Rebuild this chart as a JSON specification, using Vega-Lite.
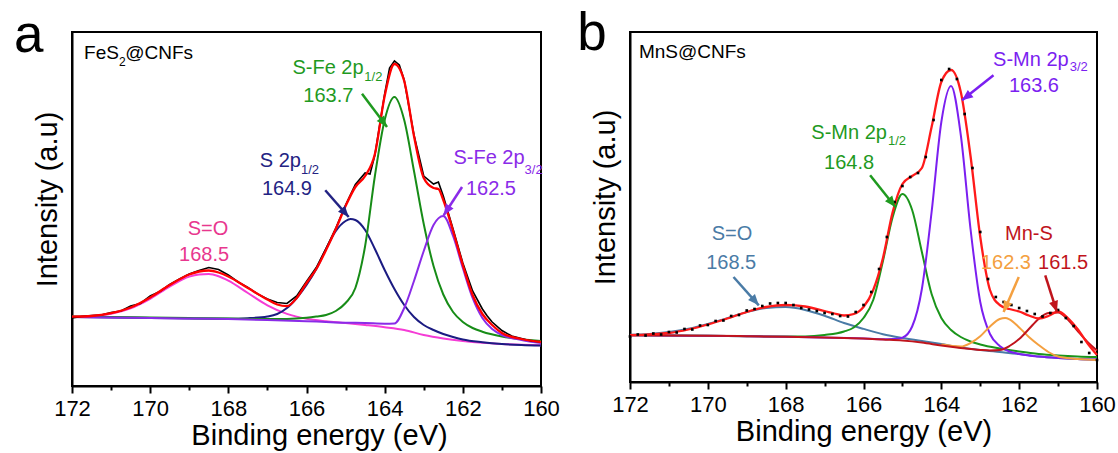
{
 "$schema": "https://vega.github.io/schema/vega-lite/v6.json",
 "padding": {"left": 12, "top": 6, "right": 5, "bottom": 4},
 "spacing": 89,
 "bounds": "flush",
 "resolve": {"scale": {"color": "independent"}},
 "config": {
  "view": {"stroke": "#000", "strokeWidth": 2},
  "font": "Liberation Sans",
  "axis": {"labelFont": "Liberation Sans", "titleFont": "Liberation Sans", "grid": false, "domainColor": "#000", "domainWidth": 2, "tickColor": "#000", "tickWidth": 2, "labelColor": "#000", "titleColor": "#000", "titleFontWeight": "normal"},
  "text": {"font": "Liberation Sans", "baseline": "alphabetic"}
 },
 "datasets": {
  "curvesA": [
   {"s":"SO","E":172,"v":69.3},{"s":"SO","E":171.5,"v":69.9},{"s":"SO","E":171,"v":72.2},{"s":"SO","E":170.5,"v":77.7},{"s":"SO","E":170,"v":87.2},{"s":"SO","E":169.5,"v":99.4},{"s":"SO","E":169,"v":109.4},{"s":"SO","E":168.75,"v":111.6},{"s":"SO","E":168.5,"v":112},{"s":"SO","E":168.25,"v":109.8},{"s":"SO","E":168,"v":105.4},{"s":"SO","E":167.5,"v":93},{"s":"SO","E":167,"v":80.7},{"s":"SO","E":166.5,"v":72.1},{"s":"SO","E":166,"v":67.2},{"s":"SO","E":165.5,"v":64.7},{"s":"SO","E":165,"v":63},{"s":"SO","E":164.5,"v":61},{"s":"SO","E":164,"v":58.8},{"s":"SO","E":163.5,"v":56},{"s":"SO","E":163,"v":51},{"s":"SO","E":162.5,"v":47.5},{"s":"SO","E":162,"v":45},{"s":"SO","E":161.5,"v":43.2},{"s":"SO","E":161,"v":42},{"s":"SO","E":160.5,"v":41.2},{"s":"SO","E":160,"v":40.7},
   {"s":"S2p","E":172,"v":69},{"s":"S2p","E":171,"v":68.6},{"s":"S2p","E":170,"v":68.1},{"s":"S2p","E":169,"v":67.6},{"s":"S2p","E":168,"v":67.3},{"s":"S2p","E":167.5,"v":67.8},{"s":"S2p","E":167,"v":69.5},{"s":"S2p","E":166.75,"v":72},{"s":"S2p","E":166.5,"v":78},{"s":"S2p","E":166.25,"v":88},{"s":"S2p","E":166,"v":101},{"s":"S2p","E":165.75,"v":117},{"s":"S2p","E":165.5,"v":137},{"s":"S2p","E":165.25,"v":155},{"s":"S2p","E":165,"v":165},{"s":"S2p","E":164.875,"v":167},{"s":"S2p","E":164.75,"v":166},{"s":"S2p","E":164.5,"v":156},{"s":"S2p","E":164.25,"v":137},{"s":"S2p","E":164,"v":116},{"s":"S2p","E":163.75,"v":97},{"s":"S2p","E":163.5,"v":81},{"s":"S2p","E":163.25,"v":69},{"s":"S2p","E":163,"v":61},{"s":"S2p","E":162.75,"v":56},{"s":"S2p","E":162.5,"v":52},{"s":"S2p","E":162.25,"v":49},{"s":"S2p","E":162,"v":46.5},{"s":"S2p","E":161.5,"v":43.8},{"s":"S2p","E":161,"v":42},{"s":"S2p","E":160.5,"v":41},{"s":"S2p","E":160,"v":40.5},
   {"s":"Fe12","E":172,"v":69.4},{"s":"Fe12","E":171,"v":68.9},{"s":"Fe12","E":170,"v":68.4},{"s":"Fe12","E":169,"v":67.9},{"s":"Fe12","E":168,"v":67.4},{"s":"Fe12","E":167,"v":67},{"s":"Fe12","E":166.5,"v":67.1},{"s":"Fe12","E":166,"v":68.3},{"s":"Fe12","E":165.75,"v":69.5},{"s":"Fe12","E":165.5,"v":71},{"s":"Fe12","E":165.25,"v":75},{"s":"Fe12","E":165,"v":83},{"s":"Fe12","E":164.75,"v":98},{"s":"Fe12","E":164.5,"v":140},{"s":"Fe12","E":164.25,"v":210},{"s":"Fe12","E":164,"v":266},{"s":"Fe12","E":163.75,"v":289},{"s":"Fe12","E":163.5,"v":266},{"s":"Fe12","E":163.25,"v":215},{"s":"Fe12","E":163,"v":162},{"s":"Fe12","E":162.75,"v":120},{"s":"Fe12","E":162.5,"v":91.5},{"s":"Fe12","E":162.25,"v":74},{"s":"Fe12","E":162,"v":64},{"s":"Fe12","E":161.75,"v":58},{"s":"Fe12","E":161.5,"v":54.3},{"s":"Fe12","E":161,"v":49.6},{"s":"Fe12","E":160.5,"v":46.8},{"s":"Fe12","E":160,"v":44.9},
   {"s":"Fe32","E":172,"v":69},{"s":"Fe32","E":171,"v":68.6},{"s":"Fe32","E":170,"v":68.1},{"s":"Fe32","E":169,"v":67.5},{"s":"Fe32","E":168,"v":66.9},{"s":"Fe32","E":167,"v":66},{"s":"Fe32","E":166,"v":64.8},{"s":"Fe32","E":165.5,"v":64},{"s":"Fe32","E":165,"v":63.3},{"s":"Fe32","E":164.5,"v":63},{"s":"Fe32","E":164,"v":62.3},{"s":"Fe32","E":163.75,"v":62.5},{"s":"Fe32","E":163.5,"v":78},{"s":"Fe32","E":163.25,"v":105},{"s":"Fe32","E":163,"v":135},{"s":"Fe32","E":162.75,"v":161},{"s":"Fe32","E":162.5,"v":170},{"s":"Fe32","E":162.25,"v":150},{"s":"Fe32","E":162,"v":118},{"s":"Fe32","E":161.75,"v":88},{"s":"Fe32","E":161.5,"v":68},{"s":"Fe32","E":161.25,"v":57},{"s":"Fe32","E":161,"v":51},{"s":"Fe32","E":160.5,"v":46},{"s":"Fe32","E":160,"v":43},
   {"s":"data","E":172,"v":68},{"s":"data","E":171.75,"v":69.5},{"s":"data","E":171.5,"v":70.5},{"s":"data","E":171.25,"v":71},{"s":"data","E":171,"v":73.5},{"s":"data","E":170.75,"v":75},{"s":"data","E":170.5,"v":80},{"s":"data","E":170.25,"v":82.5},{"s":"data","E":170,"v":90},{"s":"data","E":169.75,"v":94.5},{"s":"data","E":169.5,"v":101.5},{"s":"data","E":169.25,"v":107},{"s":"data","E":169,"v":112},{"s":"data","E":168.75,"v":115.5},{"s":"data","E":168.5,"v":118.5},{"s":"data","E":168.25,"v":116.5},{"s":"data","E":168,"v":111},{"s":"data","E":167.75,"v":104},{"s":"data","E":167.5,"v":98.5},{"s":"data","E":167.25,"v":92},{"s":"data","E":167,"v":87},{"s":"data","E":166.75,"v":83.5},{"s":"data","E":166.5,"v":82.5},{"s":"data","E":166.25,"v":90},{"s":"data","E":166,"v":104.5},{"s":"data","E":165.75,"v":118.5},{"s":"data","E":165.5,"v":137.5},{"s":"data","E":165.25,"v":158},{"s":"data","E":165,"v":181},{"s":"data","E":164.75,"v":201.5},{"s":"data","E":164.5,"v":213},{"s":"data","E":164.375,"v":212},{"s":"data","E":164.25,"v":231},{"s":"data","E":164,"v":292},{"s":"data","E":163.875,"v":318},{"s":"data","E":163.75,"v":325},{"s":"data","E":163.625,"v":321},{"s":"data","E":163.5,"v":306},{"s":"data","E":163.25,"v":251},{"s":"data","E":163,"v":210},{"s":"data","E":162.75,"v":202},{"s":"data","E":162.625,"v":204},{"s":"data","E":162.5,"v":190},{"s":"data","E":162.25,"v":157},{"s":"data","E":162,"v":123},{"s":"data","E":161.75,"v":95},{"s":"data","E":161.5,"v":77},{"s":"data","E":161.375,"v":70},{"s":"data","E":161.25,"v":64},{"s":"data","E":161,"v":55.5},{"s":"data","E":160.75,"v":50},{"s":"data","E":160.5,"v":47.5},{"s":"data","E":160.25,"v":45},{"s":"data","E":160,"v":44},
   {"s":"fit","E":172,"v":69.3},{"s":"fit","E":171.5,"v":70},{"s":"fit","E":171,"v":72.8},{"s":"fit","E":170.5,"v":78.5},{"s":"fit","E":170,"v":88.5},{"s":"fit","E":169.5,"v":101},{"s":"fit","E":169,"v":111.5},{"s":"fit","E":168.75,"v":114.5},{"s":"fit","E":168.5,"v":115.5},{"s":"fit","E":168.25,"v":113.5},{"s":"fit","E":168,"v":109.5},{"s":"fit","E":167.5,"v":98},{"s":"fit","E":167,"v":86.5},{"s":"fit","E":166.75,"v":81.5},{"s":"fit","E":166.5,"v":79.8},{"s":"fit","E":166.25,"v":88},{"s":"fit","E":166,"v":103},{"s":"fit","E":165.75,"v":117},{"s":"fit","E":165.5,"v":136},{"s":"fit","E":165.25,"v":157},{"s":"fit","E":165,"v":180},{"s":"fit","E":164.75,"v":199},{"s":"fit","E":164.5,"v":210},{"s":"fit","E":164.25,"v":232},{"s":"fit","E":164,"v":290},{"s":"fit","E":163.75,"v":322},{"s":"fit","E":163.5,"v":305},{"s":"fit","E":163.25,"v":250},{"s":"fit","E":163,"v":208},{"s":"fit","E":162.75,"v":198},{"s":"fit","E":162.625,"v":197},{"s":"fit","E":162.5,"v":186},{"s":"fit","E":162.25,"v":155},{"s":"fit","E":162,"v":121},{"s":"fit","E":161.75,"v":91},{"s":"fit","E":161.5,"v":72},{"s":"fit","E":161.25,"v":61},{"s":"fit","E":161,"v":53},{"s":"fit","E":160.5,"v":47},{"s":"fit","E":160,"v":44}
  ],
  "labelsA": [
   {"k":"m","t":"S-Fe 2p","E":165.45,"v":312,"s":"Fe12l"},
   {"k":"m","t":"163.7","E":165.44,"v":284,"s":"Fe12l"},
   {"k":"m","t":"S 2p","E":166.67,"v":219,"s":"S2pl"},
   {"k":"m","t":"164.9","E":166.5,"v":191,"s":"S2pl"},
   {"k":"m","t":"S-Fe 2p","E":161.33,"v":222,"s":"Fe32l"},
   {"k":"m","t":"162.5","E":161.28,"v":191,"s":"Fe32l"},
   {"k":"m","t":"S=O","E":168.52,"v":151,"s":"SOl"},
   {"k":"m","t":"168.5","E":168.62,"v":125,"s":"SOl"},
   {"k":"s","t":"1/2","E":164.29,"v":305,"s":"Fe12l"},
   {"k":"s","t":"1/2","E":165.91,"v":212,"s":"S2pl"},
   {"k":"s","t":"3/2","E":160.19,"v":212,"s":"Fe32l"},
   {"k":"n","t":"FeS","E":171.69,"v":327,"s":"k"},
   {"k":"ns","t":"2","E":170.8,"v":320,"s":"k"},
   {"k":"n","t":"@CNFs","E":170.64,"v":327,"s":"k"},
   {"k":"L","t":"a","E":173.11,"v":334,"s":"k"}
  ],
  "arrowsA": [
   {"s":"Fe12l","E":164.58,"v":292.3,"E2":163.94,"v2":259},
   {"s":"S2pl","E":165.52,"v":195.7,"E2":164.92,"v2":169},
   {"s":"Fe32l","E":162.02,"v":199,"E2":162.49,"v2":170.7}
  ],
  "headsA": [
   {"s":"Fe12l","E":163.94,"v":259},
   {"s":"S2pl","E":164.92,"v":169},
   {"s":"Fe32l","E":162.49,"v":170.7}
  ],
  "curvesB": [
   {"s":"SO","E":172,"v":47.3},{"s":"SO","E":171.5,"v":48.1},{"s":"SO","E":171,"v":50},{"s":"SO","E":170.5,"v":53.2},{"s":"SO","E":170,"v":58},{"s":"SO","E":169.5,"v":63.9},{"s":"SO","E":169,"v":69.9},{"s":"SO","E":168.5,"v":74},{"s":"SO","E":168,"v":74.9},{"s":"SO","E":167.5,"v":72.1},{"s":"SO","E":167,"v":66.3},{"s":"SO","E":166.5,"v":59},{"s":"SO","E":166,"v":53.1},{"s":"SO","E":165.5,"v":47.8},{"s":"SO","E":165,"v":44.1},{"s":"SO","E":164.5,"v":41.1},{"s":"SO","E":164,"v":37.9},{"s":"SO","E":163.5,"v":34.5},{"s":"SO","E":163,"v":32},{"s":"SO","E":162.5,"v":30},{"s":"SO","E":162,"v":28},{"s":"SO","E":161.5,"v":25.5},{"s":"SO","E":161,"v":24},{"s":"SO","E":160.5,"v":23},{"s":"SO","E":160,"v":22.5},
   {"s":"Mn12","E":172,"v":46.7},{"s":"Mn12","E":171,"v":46.5},{"s":"Mn12","E":170,"v":46.2},{"s":"Mn12","E":169,"v":45.8},{"s":"Mn12","E":168,"v":45.4},{"s":"Mn12","E":167.5,"v":45.5},{"s":"Mn12","E":167,"v":47},{"s":"Mn12","E":166.5,"v":50.5},{"s":"Mn12","E":166.25,"v":54.5},{"s":"Mn12","E":166,"v":64},{"s":"Mn12","E":165.75,"v":82},{"s":"Mn12","E":165.5,"v":121},{"s":"Mn12","E":165.25,"v":165},{"s":"Mn12","E":165,"v":188},{"s":"Mn12","E":164.75,"v":172},{"s":"Mn12","E":164.5,"v":130},{"s":"Mn12","E":164.25,"v":88},{"s":"Mn12","E":164,"v":64},{"s":"Mn12","E":163.75,"v":52},{"s":"Mn12","E":163.5,"v":45},{"s":"Mn12","E":163.25,"v":40.5},{"s":"Mn12","E":163,"v":37.5},{"s":"Mn12","E":162.5,"v":33.5},{"s":"Mn12","E":162,"v":30.5},{"s":"Mn12","E":161.5,"v":28},{"s":"Mn12","E":161,"v":26.5},{"s":"Mn12","E":160.5,"v":25.5},{"s":"Mn12","E":160,"v":25},
   {"s":"Mn32","E":172,"v":46.7},{"s":"Mn32","E":170,"v":46.2},{"s":"Mn32","E":168,"v":45.3},{"s":"Mn32","E":166,"v":43.5},{"s":"Mn32","E":165.5,"v":42.8},{"s":"Mn32","E":165.25,"v":43},{"s":"Mn32","E":165,"v":44.4},{"s":"Mn32","E":164.75,"v":55.5},{"s":"Mn32","E":164.5,"v":93},{"s":"Mn32","E":164.25,"v":170},{"s":"Mn32","E":164,"v":260},{"s":"Mn32","E":163.75,"v":296},{"s":"Mn32","E":163.5,"v":247},{"s":"Mn32","E":163.25,"v":153},{"s":"Mn32","E":163,"v":80},{"s":"Mn32","E":162.75,"v":48},{"s":"Mn32","E":162.5,"v":36},{"s":"Mn32","E":162.25,"v":30.5},{"s":"Mn32","E":162,"v":28},{"s":"Mn32","E":161.5,"v":25.5},{"s":"Mn32","E":161,"v":24},{"s":"Mn32","E":160.5,"v":23},{"s":"Mn32","E":160,"v":22.5},
   {"s":"o","E":164,"v":37.5},{"s":"o","E":163.5,"v":35.5},{"s":"o","E":163.25,"v":39},{"s":"o","E":163,"v":45.7},{"s":"o","E":162.75,"v":55.5},{"s":"o","E":162.5,"v":63},{"s":"o","E":162.36,"v":64},{"s":"o","E":162.25,"v":62.7},{"s":"o","E":162,"v":54.5},{"s":"o","E":161.75,"v":45},{"s":"o","E":161.5,"v":37},{"s":"o","E":161.25,"v":30},{"s":"o","E":161,"v":25.5},{"s":"o","E":160.5,"v":23},{"s":"o","E":160,"v":22},
   {"s":"MnS","E":172,"v":46.7},{"s":"MnS","E":171,"v":46.5},{"s":"MnS","E":170,"v":46.2},{"s":"MnS","E":169,"v":45.8},{"s":"MnS","E":168,"v":45.3},{"s":"MnS","E":167,"v":44.5},{"s":"MnS","E":166,"v":43.5},{"s":"MnS","E":165.5,"v":42.5},{"s":"MnS","E":165,"v":41.5},{"s":"MnS","E":164.5,"v":39.5},{"s":"MnS","E":164,"v":36.5},{"s":"MnS","E":163.5,"v":34},{"s":"MnS","E":163,"v":32},{"s":"MnS","E":162.75,"v":31.5},{"s":"MnS","E":162.5,"v":32},{"s":"MnS","E":162.25,"v":36},{"s":"MnS","E":162,"v":43},{"s":"MnS","E":161.75,"v":53},{"s":"MnS","E":161.5,"v":63},{"s":"MnS","E":161.25,"v":69},{"s":"MnS","E":161,"v":69.5},{"s":"MnS","E":160.75,"v":62.5},{"s":"MnS","E":160.5,"v":51.2},{"s":"MnS","E":160.25,"v":40.3},{"s":"MnS","E":160,"v":31.5},
   {"s":"fit","E":172,"v":46.8},{"s":"fit","E":171.5,"v":47.6},{"s":"fit","E":171,"v":49},{"s":"fit","E":170.5,"v":52.5},{"s":"fit","E":170,"v":57.5},{"s":"fit","E":169.5,"v":63.5},{"s":"fit","E":169,"v":70},{"s":"fit","E":168.5,"v":75},{"s":"fit","E":168,"v":77},{"s":"fit","E":167.5,"v":75.5},{"s":"fit","E":167,"v":71},{"s":"fit","E":166.75,"v":68.5},{"s":"fit","E":166.5,"v":66.5},{"s":"fit","E":166.25,"v":68},{"s":"fit","E":166,"v":75},{"s":"fit","E":165.75,"v":92},{"s":"fit","E":165.5,"v":124},{"s":"fit","E":165.25,"v":170},{"s":"fit","E":165,"v":198},{"s":"fit","E":164.75,"v":206},{"s":"fit","E":164.5,"v":214},{"s":"fit","E":164.25,"v":255},{"s":"fit","E":164,"v":300},{"s":"fit","E":163.75,"v":312},{"s":"fit","E":163.5,"v":290},{"s":"fit","E":163.25,"v":226},{"s":"fit","E":163,"v":145},{"s":"fit","E":162.75,"v":92},{"s":"fit","E":162.5,"v":77},{"s":"fit","E":162.25,"v":73},{"s":"fit","E":162,"v":70.5},{"s":"fit","E":161.75,"v":66.5},{"s":"fit","E":161.5,"v":63.5},{"s":"fit","E":161.25,"v":66},{"s":"fit","E":161,"v":70.5},{"s":"fit","E":160.75,"v":64},{"s":"fit","E":160.5,"v":53},{"s":"fit","E":160.25,"v":39},{"s":"fit","E":160,"v":27}
  ],
  "dotsB": [
   {"s":"data","E":172,"v":45.5},{"s":"data","E":171.8,"v":47.5},{"s":"data","E":171.6,"v":46.5},{"s":"data","E":171.4,"v":48.5},{"s":"data","E":171.2,"v":47.5},{"s":"data","E":171,"v":50},{"s":"data","E":170.8,"v":49.5},{"s":"data","E":170.6,"v":53},{"s":"data","E":170.4,"v":52.5},{"s":"data","E":170.2,"v":56.5},{"s":"data","E":170,"v":57},{"s":"data","E":169.8,"v":61},{"s":"data","E":169.6,"v":61.5},{"s":"data","E":169.4,"v":66},{"s":"data","E":169.2,"v":67},{"s":"data","E":169,"v":71.5},{"s":"data","E":168.8,"v":73},{"s":"data","E":168.6,"v":76},{"s":"data","E":168.4,"v":78.5},{"s":"data","E":168.2,"v":79},{"s":"data","E":168,"v":79},{"s":"data","E":167.8,"v":77},{"s":"data","E":167.6,"v":74},{"s":"data","E":167.4,"v":72.5},{"s":"data","E":167.2,"v":71},{"s":"data","E":167,"v":69},{"s":"data","E":166.8,"v":68},{"s":"data","E":166.6,"v":66},{"s":"data","E":166.4,"v":65.5},{"s":"data","E":166.2,"v":70},{"s":"data","E":166,"v":77},{"s":"data","E":165.8,"v":90},{"s":"data","E":165.6,"v":113},{"s":"data","E":165.4,"v":145},{"s":"data","E":165.2,"v":180},{"s":"data","E":165,"v":196},{"s":"data","E":164.8,"v":205},{"s":"data","E":164.6,"v":209},{"s":"data","E":164.4,"v":225},{"s":"data","E":164.2,"v":262},{"s":"data","E":164,"v":302},{"s":"data","E":163.8,"v":313},{"s":"data","E":163.6,"v":303},{"s":"data","E":163.4,"v":268},{"s":"data","E":163.2,"v":214},{"s":"data","E":163,"v":150},{"s":"data","E":162.8,"v":103},{"s":"data","E":162.6,"v":85},{"s":"data","E":162.4,"v":80},{"s":"data","E":162.2,"v":77},{"s":"data","E":162,"v":74},{"s":"data","E":161.8,"v":71},{"s":"data","E":161.6,"v":68},{"s":"data","E":161.4,"v":65.5},{"s":"data","E":161.2,"v":69},{"s":"data","E":161,"v":72},{"s":"data","E":160.8,"v":64},{"s":"data","E":160.6,"v":56},{"s":"data","E":160.4,"v":40},{"s":"data","E":160.2,"v":29},{"s":"data","E":160,"v":22}
  ],
  "labelsB": [
   {"k":"m","t":"S-Mn 2p","E":161.7,"v":316.5,"s":"Mn32l"},
   {"k":"s","t":"3/2","E":160.47,"v":311.5,"s":"Mn32l"},
   {"k":"m","t":"163.6","E":161.62,"v":290,"s":"Mn32l"},
   {"k":"m","t":"S-Mn 2p","E":166.37,"v":243.5,"s":"Mn12l"},
   {"k":"s","t":"1/2","E":165.14,"v":237,"s":"Mn12l"},
   {"k":"m","t":"164.8","E":166.37,"v":213.3,"s":"Mn12l"},
   {"k":"m","t":"S=O","E":169.38,"v":141.7,"s":"SOl"},
   {"k":"m","t":"168.5","E":169.4,"v":113,"s":"SOl"},
   {"k":"m","t":"Mn-S","E":161.75,"v":141.7,"s":"MnSl"},
   {"k":"m","t":"162.3","E":162.34,"v":113,"s":"ol"},
   {"k":"m","t":"161.5","E":160.87,"v":113,"s":"MnSl"},
   {"k":"n","t":"MnS@CNFs","E":171.77,"v":324,"s":"k"},
   {"k":"L","t":"b","E":172.98,"v":332,"s":"k"}
  ],
  "arrowsB": [
   {"s":"Mn32l","E":162.66,"v":306.7,"E2":163.47,"v2":281.7},
   {"s":"Mn12l","E":165.83,"v":206.7,"E2":165.18,"v2":175},
   {"s":"SOl","E":169.34,"v":105,"E2":168.69,"v2":76.7},
   {"s":"ol","E":162.01,"v":105,"E2":162.4,"v2":70},
   {"s":"MnSl","E":161.33,"v":106.7,"E2":161.03,"v2":70}
  ],
  "headsB": [
   {"s":"Mn32l","E":163.47,"v":281.7},
   {"s":"Mn12l","E":165.18,"v":175},
   {"s":"SOl","E":168.69,"v":76.7},
   {"s":"ol","E":162.4,"v":70},
   {"s":"MnSl","E":161.03,"v":70}
  ]
 },
 "hconcat": [
  {
   "width": 469, "height": 354,
   "encoding": {
    "x": {"field": "E", "type": "quantitative", "scale": {"domain": [160, 172], "reverse": true, "nice": false, "zero": false},
     "axis": {"values": [172,171,170,169,168,167,166,165,164,163,162,161,160], "labelExpr": "datum.value % 2 === 0 ? datum.label : ''", "tickSize": {"condition": {"test": "datum.value % 2 === 0", "value": 7}, "value": 4}, "labelFontSize": 22, "labelPadding": 5, "labelOverlap": false, "labelFlush": false, "title": "Binding energy (eV)", "titleFontSize": 29, "titlePadding": 2, "titleX": 247}},
    "y": {"field": "v", "type": "quantitative", "scale": {"domain": [0, 354], "nice": false, "zero": false},
     "axis": {"ticks": false, "labels": false, "title": "Intensity (a.u)", "titleFontSize": 29, "titlePadding": 10, "titleY": 167}},
    "color": {"field": "s", "type": "nominal", "legend": null,
     "scale": {"domain": ["SO","S2p","Fe12","Fe32","data","fit","SOl","S2pl","Fe12l","Fe32l","k"],
               "range": ["#f53cd6","#1b1b82","#178c17","#8a2be8","#000000","#ff0000","#e8378e","#232383","#1f9a1f","#8a2be8","#000000"]}}
   },
   "layer": [
    {"data": {"name": "curvesA"}, "transform": [{"filter": "datum.s !== 'data' && datum.s !== 'fit'"}], "mark": {"type": "line", "interpolate": "monotone", "strokeWidth": 2}},
    {"data": {"name": "curvesA"}, "transform": [{"filter": "datum.s === 'data'"}], "mark": {"type": "line", "strokeWidth": 1.6}},
    {"data": {"name": "curvesA"}, "transform": [{"filter": "datum.s === 'fit'"}], "mark": {"type": "line", "interpolate": "monotone", "strokeWidth": 2.3}},
    {"data": {"name": "arrowsA"}, "mark": {"type": "rule", "strokeWidth": 2.5}, "encoding": {"x2": {"field": "E2"}, "y2": {"field": "v2"}}},
    {"data": {"name": "headsA"}, "transform": [{"filter": "datum.s === 'Fe12l'"}], "mark": {"type": "point", "shape": "M0,0L0.75,1.8L-0.75,1.8Z", "filled": true, "size": 150, "opacity": 1, "strokeWidth": 0, "angle": 143}},
    {"data": {"name": "headsA"}, "transform": [{"filter": "datum.s === 'S2pl'"}], "mark": {"type": "point", "shape": "M0,0L0.75,1.8L-0.75,1.8Z", "filled": true, "size": 150, "opacity": 1, "strokeWidth": 0, "angle": 139}},
    {"data": {"name": "headsA"}, "transform": [{"filter": "datum.s === 'Fe32l'"}], "mark": {"type": "point", "shape": "M0,0L0.75,1.8L-0.75,1.8Z", "filled": true, "size": 150, "opacity": 1, "strokeWidth": 0, "angle": 213}},
    {"data": {"name": "labelsA"}, "transform": [{"filter": "datum.k === 'm'"}], "mark": {"type": "text", "fontSize": 20, "align": "center", "baseline": "alphabetic"}, "encoding": {"text": {"field": "t"}}},
    {"data": {"name": "labelsA"}, "transform": [{"filter": "datum.k === 's'"}], "mark": {"type": "text", "fontSize": 13, "align": "center", "baseline": "alphabetic"}, "encoding": {"text": {"field": "t"}}},
    {"data": {"name": "labelsA"}, "transform": [{"filter": "datum.k === 'n'"}], "mark": {"type": "text", "fontSize": 19, "align": "left", "baseline": "alphabetic"}, "encoding": {"text": {"field": "t"}}},
    {"data": {"name": "labelsA"}, "transform": [{"filter": "datum.k === 'ns'"}], "mark": {"type": "text", "fontSize": 12, "align": "left", "baseline": "alphabetic"}, "encoding": {"text": {"field": "t"}}},
    {"data": {"name": "labelsA"}, "transform": [{"filter": "datum.k === 'L'"}], "mark": {"type": "text", "fontSize": 53, "align": "center", "baseline": "alphabetic"}, "encoding": {"text": {"field": "t"}}}
   ]
  },
  {
   "width": 467, "height": 350,
   "encoding": {
    "x": {"field": "E", "type": "quantitative", "scale": {"domain": [160, 172], "reverse": true, "nice": false, "zero": false},
     "axis": {"values": [172,171,170,169,168,167,166,165,164,163,162,161,160], "labelExpr": "datum.value % 2 === 0 ? datum.label : ''", "tickSize": {"condition": {"test": "datum.value % 2 === 0", "value": 7}, "value": 4}, "labelFontSize": 22, "labelPadding": 5, "labelOverlap": false, "labelFlush": false, "title": "Binding energy (eV)", "titleFontSize": 29, "titlePadding": 2}},
    "y": {"field": "v", "type": "quantitative", "scale": {"domain": [0, 350], "nice": false, "zero": false},
     "axis": {"ticks": false, "labels": false, "title": "Intensity (a.u)", "titleFontSize": 29, "titlePadding": 10, "titleY": 165}},
    "color": {"field": "s", "type": "nominal", "legend": null,
     "scale": {"domain": ["SO","Mn12","Mn32","o","MnS","fit","data","SOl","Mn12l","Mn32l","ol","MnSl","k"],
               "range": ["#4a7ba6","#1a951a","#7b1ff0","#f4a040","#c0141c","#ff1a1a","#000000","#4a7ba6","#1f9a1f","#7b1ff0","#f4a040","#c0141c","#000000"]}}
   },
   "layer": [
    {"data": {"name": "curvesB"}, "transform": [{"filter": "datum.s !== 'fit'"}], "mark": {"type": "line", "interpolate": "monotone", "strokeWidth": 2}},
    {"data": {"name": "curvesB"}, "transform": [{"filter": "datum.s === 'fit'"}], "mark": {"type": "line", "interpolate": "monotone", "strokeWidth": 2.3}},
    {"data": {"name": "dotsB"}, "mark": {"type": "point", "shape": "square", "filled": true, "size": 7, "opacity": 1}},
    {"data": {"name": "arrowsB"}, "mark": {"type": "rule", "strokeWidth": 2.5}, "encoding": {"x2": {"field": "E2"}, "y2": {"field": "v2"}}},
    {"data": {"name": "headsB"}, "transform": [{"filter": "datum.s === 'Mn32l'"}], "mark": {"type": "point", "shape": "M0,0L0.75,1.8L-0.75,1.8Z", "filled": true, "size": 150, "opacity": 1, "strokeWidth": 0, "angle": 232}},
    {"data": {"name": "headsB"}, "transform": [{"filter": "datum.s === 'Mn12l'"}], "mark": {"type": "point", "shape": "M0,0L0.75,1.8L-0.75,1.8Z", "filled": true, "size": 150, "opacity": 1, "strokeWidth": 0, "angle": 142}},
    {"data": {"name": "headsB"}, "transform": [{"filter": "datum.s === 'SOl'"}], "mark": {"type": "point", "shape": "M0,0L0.75,1.8L-0.75,1.8Z", "filled": true, "size": 150, "opacity": 1, "strokeWidth": 0, "angle": 138.5}},
    {"data": {"name": "headsB"}, "transform": [{"filter": "datum.s === 'ol'"}], "mark": {"type": "point", "shape": "M0,0L0.75,1.8L-0.75,1.8Z", "filled": true, "size": 150, "opacity": 1, "strokeWidth": 0, "angle": 203}},
    {"data": {"name": "headsB"}, "transform": [{"filter": "datum.s === 'MnSl'"}], "mark": {"type": "point", "shape": "M0,0L0.75,1.8L-0.75,1.8Z", "filled": true, "size": 150, "opacity": 1, "strokeWidth": 0, "angle": 162}},
    {"data": {"name": "labelsB"}, "transform": [{"filter": "datum.k === 'm'"}], "mark": {"type": "text", "fontSize": 20, "align": "center", "baseline": "alphabetic"}, "encoding": {"text": {"field": "t"}}},
    {"data": {"name": "labelsB"}, "transform": [{"filter": "datum.k === 's'"}], "mark": {"type": "text", "fontSize": 13, "align": "center", "baseline": "alphabetic"}, "encoding": {"text": {"field": "t"}}},
    {"data": {"name": "labelsB"}, "transform": [{"filter": "datum.k === 'n'"}], "mark": {"type": "text", "fontSize": 19, "align": "left", "baseline": "alphabetic"}, "encoding": {"text": {"field": "t"}}},
    {"data": {"name": "labelsB"}, "transform": [{"filter": "datum.k === 'L'"}], "mark": {"type": "text", "fontSize": 53, "align": "center", "baseline": "alphabetic"}, "encoding": {"text": {"field": "t"}}}
   ]
  }
 ]
}
